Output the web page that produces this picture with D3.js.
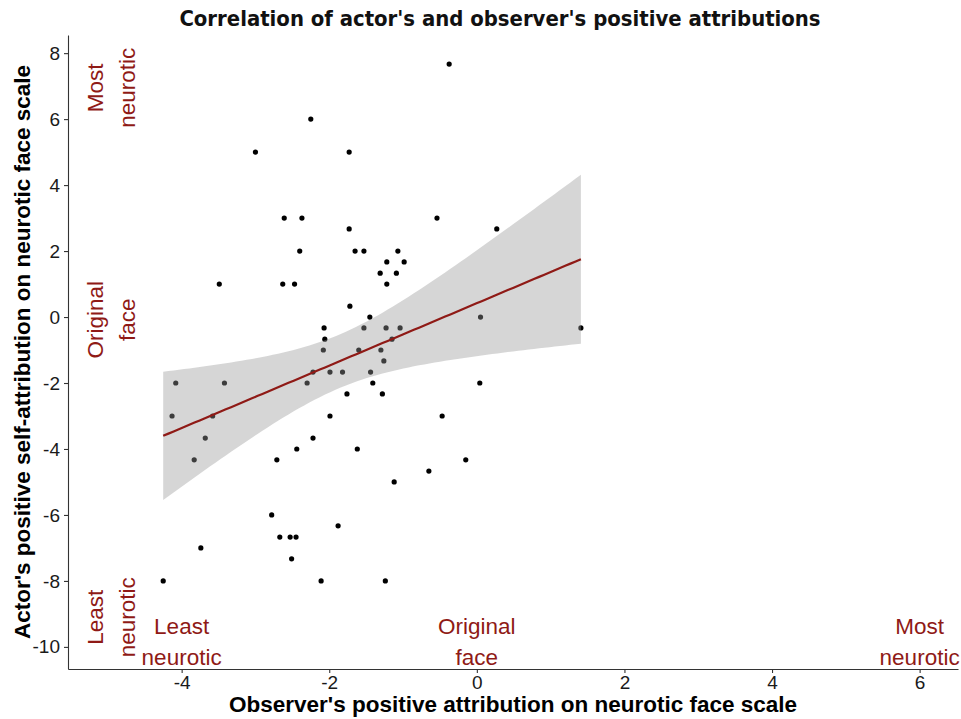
<!DOCTYPE html>
<html>
<head>
<meta charset="utf-8">
<script src="https://cdn.jsdelivr.net/npm/d3@7"></script>
<style>
body { margin: 0; background: #fff; }
svg { display: block; }
</style>
</head>
<body>
<svg id="chart" width="961" height="719"></svg>
<script>
// Observer's attribution (x) and actor's self-attribution (y)
const observerX = [-2.25,-3.0,-1.73,-2.61,-2.37,-1.73,-0.375,-0.54,0.27,-2.40,-3.49,-2.63,-2.47,-1.72,-2.07,-2.06,-2.08,-4.08,-3.42,-2.22,-1.99,-1.82,-2.30,-1.76,-4.13,-3.58,-1.99,-3.68,-3.83,-2.22,-2.44,-2.71,-2.78,-1.88,-2.67,-2.53,-2.45,-3.74,-2.51,-4.25,-2.11,-1.65,-1.53,-1.07,-1.22,-0.985,-1.31,-1.09,-1.22,-1.45,-1.53,-1.23,-1.04,0.05,-1.15,-1.60,-1.30,-1.26,-1.44,-1.41,0.04,-1.28,-0.47,-1.62,-1.12,-0.65,-0.15,-1.24,1.41];
const actorY = [6,5,5,3,3,2.67,7.67,3,2.67,2,1,1,1,0.33,-0.33,-0.67,-1,-2,-2,-1.67,-1.67,-1.67,-2,-2.33,-3,-3,-3,-3.67,-4.33,-3.67,-4,-4.33,-6,-6.33,-6.67,-6.67,-6.67,-7,-7.33,-8,-8,2,2,2,1.67,1.67,1.33,1.33,1,0,-0.33,-0.33,-0.33,0,-0.67,-1,-1,-1.33,-1.67,-2,-2,-2.33,-3,-4,-5,-4.67,-4.33,-8,-0.33];
const xTicks = [-4,-2,0,2,4,6];
const yTicks = [8,6,4,2,0,-2,-4,-6,-8,-10];
const xAnnot = [{x:-4, lines:["Least","neurotic"]},{x:0, lines:["Original","face"]},{x:6, lines:["Most","neurotic"]}];
const yAnnot = [{y:-9.1, lines:["Least","neurotic"]},{y:-0.08, lines:["Original","face"]},{y:6.95, lines:["Most","neurotic"]}];
const titleText = "Correlation of actor's and observer's positive attributions";
const xTitle = "Observer's positive attribution on neurotic face scale";
const yTitle = "Actor's positive self-attribution on neurotic face scale";

const svg = d3.select("#chart");
const x = d3.scaleLinear().domain([-5.54, 6.52]).range([68, 958]);
const y = d3.scaleLinear().domain([-10.67, 8.55]).range([669, 35]);
const red = "#8f1a16";

// linear model (geom_smooth, method = lm)
const pts = observerX.map((d,i)=>({x:d, y:actorY[i]}));
const n = pts.length;
const mx = d3.mean(pts, d=>d.x), my = d3.mean(pts, d=>d.y);
const sxx = d3.sum(pts, d=>(d.x-mx)**2);
const sxy = d3.sum(pts, d=>(d.x-mx)*(d.y-my));
const b = sxy/sxx, a = my - b*mx;
const sse = d3.sum(pts, d=>(d.y-(a+b*d.x))**2);
const s = Math.sqrt(sse/(n-2));
const tq = 1.996;
const [xmin, xmax] = d3.extent(observerX);
const grid = d3.range(0, 81).map(i => xmin + (xmax-xmin)*i/80);
const fit = grid.map(g => {
  const yh = a + b*g;
  const se = s*Math.sqrt(1/n + (g-mx)**2/sxx);
  return {x:g, y:yh, lo:yh-tq*se, hi:yh+tq*se};
});

// points
svg.append("g").selectAll("circle").data(pts).join("circle")
  .attr("cx", d=>x(d.x)).attr("cy", d=>y(d.y)).attr("r", 2.6).attr("fill", "#000");

// band
svg.append("path").datum(fit)
  .attr("d", d3.area().x(d=>x(d.x)).y0(d=>y(d.lo)).y1(d=>y(d.hi)))
  .attr("fill", "#999").attr("fill-opacity", 0.4);
svg.append("path").datum(fit)
  .attr("d", d3.line().x(d=>x(d.x)).y(d=>y(d.y)))
  .attr("fill", "none").attr("stroke", red).attr("stroke-width", 2.2);

// annotations
const annFont = "'Liberation Sans', Arial, sans-serif";
xAnnot.forEach(a => {
  a.lines.forEach((t,i) => {
    svg.append("text").attr("x", x(a.x)).attr("y", 634 + i*31)
      .attr("text-anchor","middle").attr("font-family", annFont).attr("font-size", 22.5)
      .attr("fill", red).text(t);
  });
});
yAnnot.forEach(a => {
  a.lines.forEach((t,i) => {
    svg.append("text").attr("transform", `translate(${103 + i*32},${y(a.y)}) rotate(-90)`)
      .attr("text-anchor","middle").attr("font-family", annFont).attr("font-size", 22.5)
      .attr("fill", red).text(t);
  });
});

// axes
const xAxis = svg.append("g").attr("transform", "translate(0,669)")
  .call(d3.axisBottom(x).tickValues(xTicks).tickSize(4).tickSizeOuter(0).tickPadding(3).tickFormat(d3.format("d")));
const yAxis = svg.append("g").attr("transform", "translate(68,0)")
  .call(d3.axisLeft(y).tickValues(yTicks).tickSize(4).tickSizeOuter(0).tickPadding(4).tickFormat(d3.format("d")));
[xAxis, yAxis].forEach(g => {
  g.select(".domain").attr("stroke", "#333").attr("stroke-width", 1.1);
  g.selectAll(".tick line").attr("stroke", "#333").attr("stroke-width", 1.1);
  g.selectAll(".tick text").attr("font-family", annFont).attr("font-size", 19).attr("fill", "#1a1a1a");
});
svg.selectAll(".tick text").text(function(d){ return String(d); });

// titles
svg.append("text").attr("x", 500).attr("y", 26).attr("text-anchor","middle")
  .attr("font-family","'DejaVu Sans Condensed','DejaVu Sans',sans-serif").attr("font-weight","bold")
  .attr("font-size", 21.9).attr("fill","#111").text(titleText);
svg.append("text").attr("x", 513).attr("y", 712).attr("text-anchor","middle")
  .attr("font-family", annFont).attr("font-weight","bold").attr("font-size", 22.5).attr("fill","#000").text(xTitle);
svg.append("text").attr("transform", "translate(30,352) rotate(-90)").attr("text-anchor","middle")
  .attr("font-family", annFont).attr("font-weight","bold").attr("font-size", 22.5).attr("fill","#000").text(yTitle);
</script>
</body>
</html>
